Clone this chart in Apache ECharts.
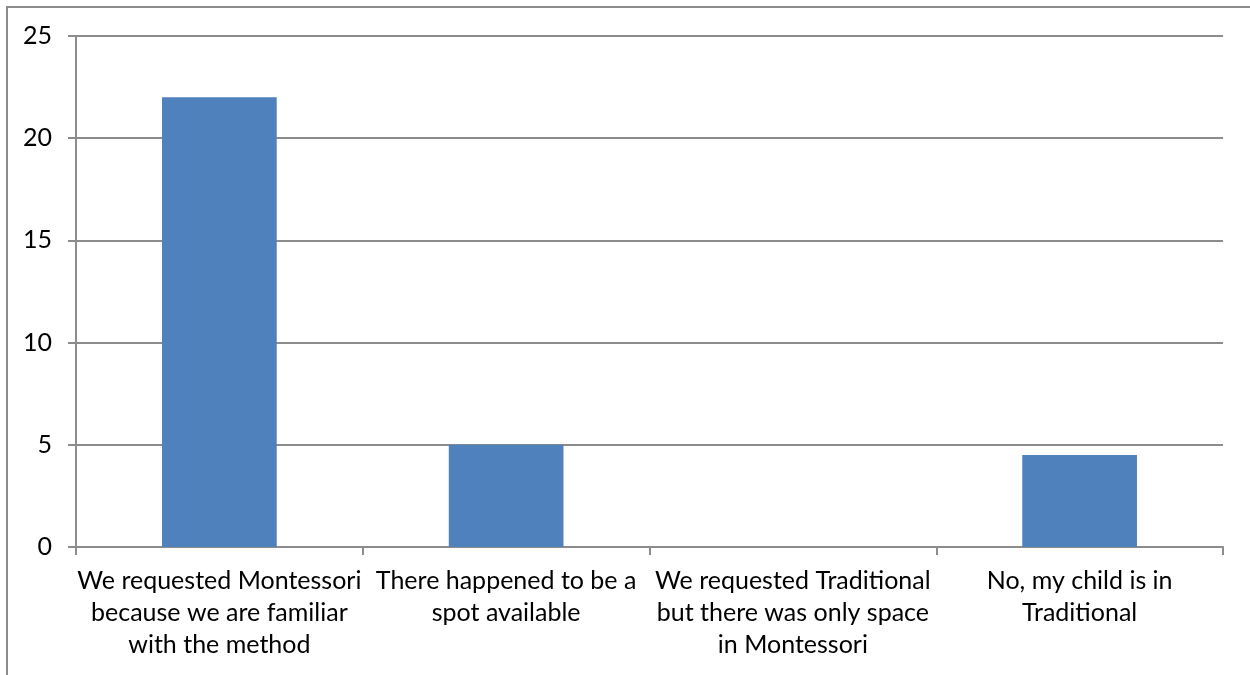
<!DOCTYPE html>
<html>
<head>
<meta charset="utf-8">
<script src="https://cdn.jsdelivr.net/npm/echarts@6/dist/echarts.min.js"></script>
<style>html,body{margin:0;padding:0;background:#fff}#c{width:1250px;height:675px}</style>
</head>
<body>
<div id="c"></div>
<script>
var categories = [
  "We requested Montessori\nbecause we are familiar\nwith the method",
  "There happened to be a\nspot available",
  "We requested Traditional\nbut there was only space\nin Montessori",
  "No, my child is in\nTraditional"
];
var values = [22, 5, 0, 4.5];
var yTicks = [0, 5, 10, 15, 20, 25];

var chart = echarts.init(document.getElementById('c'), null, {renderer: 'canvas'});
var FONT = 'Lato';
var AX = '#8c8c8c';
chart.setOption({
  animation: false,
  backgroundColor: '#fff',
  graphic: [{
    type: 'rect', shape: {x: 7, y: 7, width: 1400, height: 800},
    style: {fill: 'none', stroke: AX, lineWidth: 2}, silent: true
  }],
  grid: {left: 76, right: 27, top: 36, bottom: 128, containLabel: false},
  xAxis: {
    type: 'category', data: categories,
    axisLine: {show: true, lineStyle: {color: AX, width: 2}},
    axisTick: {show: true, length: 8, lineStyle: {color: AX, width: 2}},
    axisLabel: {interval: 0, color: '#000', fontFamily: FONT, fontSize: 25, lineHeight: 32, margin: 18}
  },
  yAxis: {
    type: 'value', min: yTicks[0], max: yTicks[yTicks.length - 1], interval: 5,
    axisLine: {show: true, lineStyle: {color: AX, width: 2}},
    axisTick: {show: true, length: 8, lineStyle: {color: AX, width: 2}},
    splitLine: {show: true, lineStyle: {color: AX, width: 2}},
    axisLabel: {color: '#000', fontFamily: FONT, fontSize: 25, margin: 24}
  },
  series: [{
    type: 'bar', data: values, barCategoryGap: '60%',
    itemStyle: {color: '#4F81BD'}
  }]
});
</script>
</body>
</html>
